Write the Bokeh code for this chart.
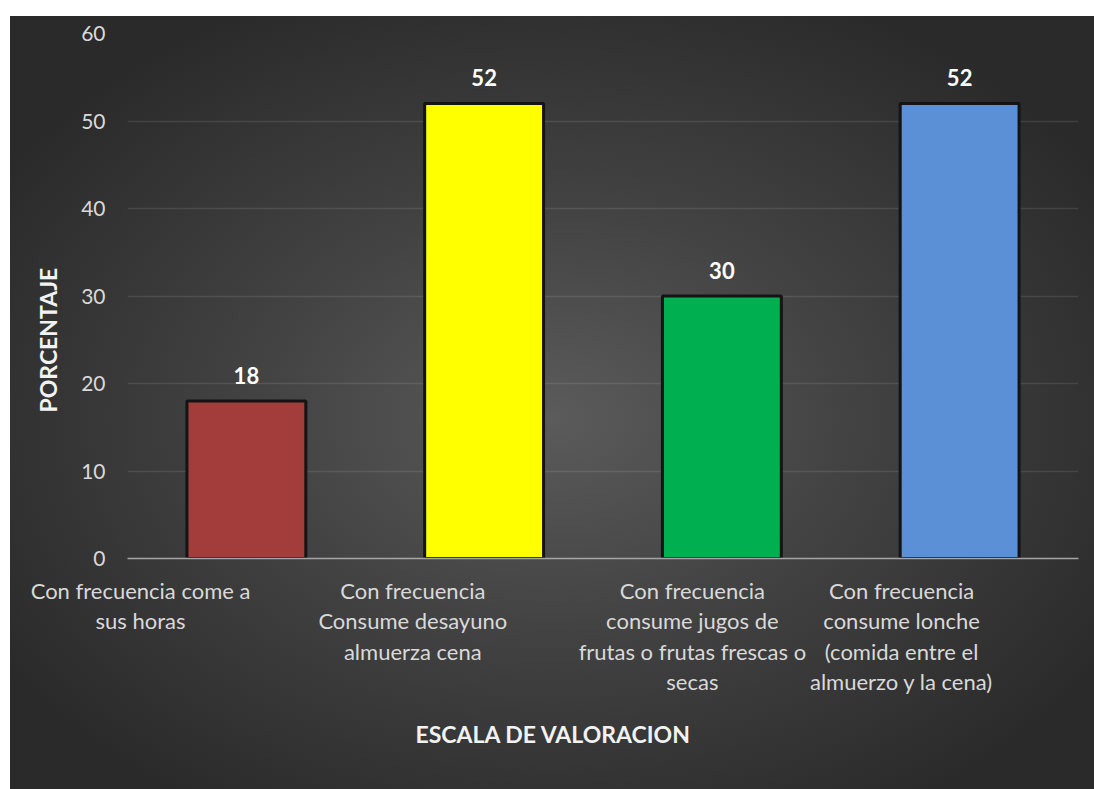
from bokeh.plotting import figure
from bokeh.models import (Range1d, FactorRange, ColumnDataSource, FixedTicker,
                          LinearAxis, Title, CustomJSTickFormatter)
from bokeh.core.properties import value
from bokeh.embed import file_html
from bokeh.resources import INLINE

# ---- data ----
categories = [
    "Con frecuencia come a sus horas",
    "Con frecuencia Consume desayuno almuerza cena",
    "Con frecuencia consume jugos de frutas o frutas frescas o secas",
    "Con frecuencia consume lonche (comida entre el almuerzo y la cena)",
]
category_labels = [
    "Con frecuencia come a\nsus horas",
    "Con frecuencia\nConsume desayuno\nalmuerza cena",
    "Con frecuencia\nconsume jugos de\nfrutas o frutas frescas o\nsecas",
    "Con frecuencia\nconsume lonche\n(comida entre el\nalmuerzo y la cena)",
]
values = [18, 52, 30, 52]
bar_colors = ["#A23D3B", "#FFFF00", "#00B050", "#5B8FD6"]
y_ticks = [0, 10, 20, 30, 40, 50, 60]
y_title = "PORCENTAJE"
x_title = "ESCALA DE VALORACION"

# ---- styles ----
# where each category's text block is centred (in the factor range's slot units)
label_centers = [0.055, 1.2, 2.376, 3.256]
FONT = "Lato"

src = ColumnDataSource(dict(cat=categories, val=values, color=bar_colors,
                            txt=[str(v) for v in values]))

p = figure(
    x_range=FactorRange(factors=categories),
    y_range=Range1d(0, 60),
    width=1084, height=773,
    output_backend="svg", toolbar_location=None,
    x_axis_location=None,
    min_border_left=117, min_border_right=16,
    min_border_top=17, min_border_bottom=231,
)
p.margin = (16, 0, 0, 10)
p.styles = {"background": "radial-gradient(ellipse 60% 60% at 50% 52%, #5b5b5b 0%, #434343 45%, #2a2a2a 100%)"}
p.border_fill_alpha = 0
p.background_fill_alpha = 0
p.outline_line_color = None

p.vbar(x="cat", top="val", width=0.5, source=src, fill_color="color",
       line_color="#141414", line_width=3)

p.text(x="cat", y="val", text="txt", source=src, text_align="center",
       text_baseline="alphabetic", y_offset=-26, text_color="white",
       text_font=value(FONT), text_font_style="bold", text_font_size="22px")

# category axis (text blocks placed where the source puts them)
xax = LinearAxis(
    ticker=FixedTicker(ticks=label_centers),
    formatter=CustomJSTickFormatter(args=dict(labels=category_labels),
                                    code="return labels[index]"),
)
xax.major_tick_line_color = None
xax.minor_tick_line_color = None
xax.axis_line_color = "#a6a6a6"
xax.axis_line_width = 1.5
xax.major_label_text_font = FONT
xax.major_label_text_font_size = "22px"
xax.major_label_text_color = "#d9d9d9"
xax.major_label_text_line_height = 1.13
xax.major_label_standoff = 12
p.add_layout(xax, "below")

p.yaxis.ticker = FixedTicker(ticks=y_ticks)
p.yaxis.axis_line_color = None
p.yaxis.major_tick_line_color = None
p.yaxis.minor_tick_line_color = None
p.yaxis.major_label_text_font = FONT
p.yaxis.major_label_text_font_size = "21px"
p.yaxis.major_label_text_color = "#d9d9d9"
p.yaxis.major_label_standoff = 16

p.xgrid.grid_line_color = None
p.ygrid.grid_line_color = "white"
p.ygrid.grid_line_alpha = 0.1
p.ygrid.grid_line_width = 1.5

xt = Title(text=x_title, align="left", offset=288,
           text_font=FONT, text_font_size="23px", text_font_style="bold",
           text_color="#f2f2f2")
yt = Title(text=y_title, align="left", offset=146,
           text_font=FONT, text_font_size="23px", text_font_style="bold",
           text_color="#f2f2f2")
if "standoff" in Title.properties():
    xt.standoff = 38
    yt.standoff = 33
p.add_layout(xt, "below")
p.add_layout(yt, "left")

open("out.html", "w").write(file_html(p, INLINE))
